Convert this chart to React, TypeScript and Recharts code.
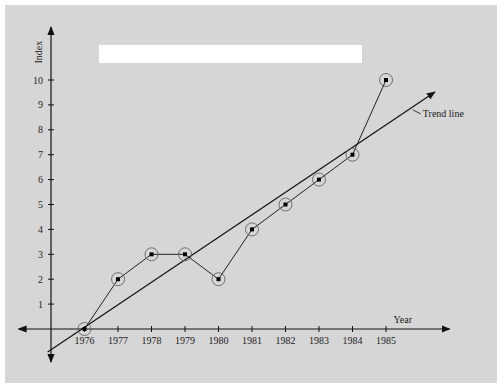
import React from 'react';
import { ComposedChart, Line, XAxis, YAxis, ReferenceLine, ReferenceDot } from 'recharts';

const years = [1976, 1977, 1978, 1979, 1980, 1981, 1982, 1983, 1984, 1985];
const indexValues = [0, 2, 3, 3, 2, 4, 5, 6, 7, 10];
const yTicks = [1, 2, 3, 4, 5, 6, 7, 8, 9, 10];
const trendYears = [1974.9, 1986.46];
const trendValues = [-0.92, 9.52];

const data = years.map((year, i) => ({ year, value: indexValues[i] }));

const FONT = '"Liberation Serif", "DejaVu Serif", serif';
const INK = '#111';

const PointMark = (props: any) => {
  const { cx, cy } = props;
  if (cx == null || cy == null) return null;
  return (
    <g>
      <circle cx={cx} cy={cy} r={6.5} fill="none" stroke="#555" strokeWidth={0.8} />
      <rect x={cx - 2} y={cy - 2} width={4} height={4} fill="#000" />
    </g>
  );
};

const xTick = (label: string) => (props: any) => {
  const { cx, cy } = props;
  return (
    <g>
      <line x1={cx} y1={cy - 3} x2={cx} y2={cy + 3} stroke={INK} strokeWidth={1} />
      <text x={cx} y={cy + 15} textAnchor="middle" fontSize={10} fontFamily={FONT} fill="#222">
        {label}
      </text>
    </g>
  );
};

const yTick = (label: string) => (props: any) => {
  const { cx, cy } = props;
  return (
    <g>
      <line x1={cx - 3} y1={cy} x2={cx + 3} y2={cy} stroke={INK} strokeWidth={1} />
      <text x={cx - 8} y={cy} dy="0.35em" textAnchor="end" fontSize={10} fontFamily={FONT} fill="#222">
        {label}
      </text>
    </g>
  );
};

const IndexLabel = (props: any) => {
  const { cx, cy } = props;
  return (
    <text
      x={cx - 9}
      y={cy}
      transform={`rotate(-90 ${cx - 9} ${cy})`}
      textAnchor="middle"
      fontSize={10}
      fontFamily={FONT}
      fill="#222"
    >
      Index
    </text>
  );
};

const YearLabel = (props: any) => {
  const { cx, cy } = props;
  return (
    <text x={cx} y={cy - 6} textAnchor="middle" fontSize={10} fontFamily={FONT} fill="#222">
      Year
    </text>
  );
};

const TrendLabel = (props: any) => {
  const { cx, cy } = props;
  return (
    <g>
      <line x1={cx} y1={cy} x2={cx + 8} y2={cy + 4} stroke={INK} strokeWidth={0.8} />
      <text x={cx + 10} y={cy + 4} dy="0.35em" fontSize={10} fontFamily={FONT} fill="#222">
        Trend line
      </text>
    </g>
  );
};

export default function App() {
  return (
    <div style={{ position: 'fixed', left: 0, top: 0, width: 504, height: 389, background: '#fff' }}>
      <div style={{ position: 'absolute', left: 5, top: 5, width: 492, height: 378, background: '#d6d6d6' }} />
      <div style={{ position: 'absolute', left: 99, top: 45, width: 263, height: 18, background: '#fff' }} />
      <div style={{ position: 'absolute', left: 0, top: 0 }}>
        <ComposedChart
          width={504}
          height={389}
          data={data}
          margin={{ top: 17.75, right: 17.5, bottom: 10.2, left: 17.5 }}
        >
          <defs>
            <marker id="arrow" viewBox="0 0 10 10" refX="9" refY="5" markerWidth="9" markerHeight="9" markerUnits="userSpaceOnUse" orient="auto-start-reverse">
              <path d="M0,1 L10,5 L0,9 z" fill={INK} />
            </marker>
          </defs>
          <XAxis dataKey="year" type="number" domain={[1974, 1988]} hide />
          <YAxis type="number" domain={[-2, 12.5]} hide />
          <ReferenceLine
            segment={[{ x: 1974.03, y: 0 }, { x: 1986.9, y: 0 }]}
            stroke={INK}
            strokeWidth={1.2}
            markerStart="url(#arrow)"
            markerEnd="url(#arrow)"
          />
          <ReferenceLine
            segment={[{ x: 1975, y: -1.33 }, { x: 1975, y: 12.13 }]}
            stroke={INK}
            strokeWidth={1.2}
            markerStart="url(#arrow)"
            markerEnd="url(#arrow)"
          />
          <ReferenceLine
            segment={[{ x: trendYears[0], y: trendValues[0] }, { x: trendYears[1], y: trendValues[1] }]}
            stroke={INK}
            strokeWidth={1.2}
            markerEnd="url(#arrow)"
          />
          {years.map((y) => (
            <ReferenceDot key={`xt-${y}`} x={y} y={0} shape={xTick(String(y))} />
          ))}
          {yTicks.map((v) => (
            <ReferenceDot key={`yt-${v}`} x={1975} y={v} shape={yTick(String(v))} />
          ))}
          <ReferenceDot x={1975} y={11.12} shape={IndexLabel} />
          <ReferenceDot x={1985.5} y={0} shape={YearLabel} />
          <ReferenceDot x={1985.8} y={8.8} shape={TrendLabel} />
          <Line
            dataKey="value"
            stroke="#222"
            strokeWidth={1}
            dot={<PointMark />}
            activeDot={false}
            isAnimationActive={false}
          />
        </ComposedChart>
      </div>
    </div>
  );
}
